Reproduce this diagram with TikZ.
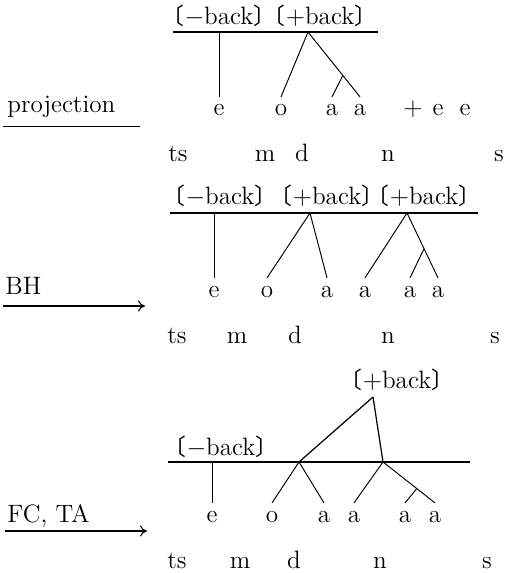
\documentclass[tikz,border=0pt]{standalone}
\usepackage{fontspec}
\usepackage{tikz}
\usetikzlibrary{arrows.meta, calc}
\newfontfamily\cjk{Noto Sans CJK JP}
\newcommand{\bk}[1]{{\cjk\fontsize{13}{13}\selectfont 〔}#1{\cjk\fontsize{13}{13}\selectfont 〕}}

\begin{document}
\begin{tikzpicture}[
  x=0.02cm, y=-0.02cm,
  font=\fontsize{14.3}{17}\selectfont,
  seg/.style={anchor=base, inner sep=0pt, outer ysep=4.5pt},
  cons/.style={anchor=base, inner sep=0pt},
  ftr/.style={anchor=base, inner sep=0pt},
  lab/.style={anchor=base west, inner sep=0pt},
  tier/.style={line width=0.7pt},
  assoc/.style={line width=0.55pt},
  rule/.style={line width=0.6pt, -{To[length=1.4mm, width=2.2mm]}}]
  \useasboundingbox (0,0) rectangle (508,573);

  % projection
  \node[lab] (lp) at (7,113) {projection};
  \coordinate (lp0) at (3,126); \coordinate (lp1) at (140,126);
  \draw[assoc] (lp0) -- (lp1);
  \node[ftr] (f11) at (219,25) {\bk{$-$back}};
  \node[ftr] (f12) at (320,25) {\bk{$+$back}};
  \coordinate (t1a) at (173,32); \coordinate (t1b) at (378,32);
  \draw[tier] (t1a) -- (t1b);
  \node[seg] (v11) at (219,116) {e};
  \node[seg] (v12) at (281,116) {o};
  \node[seg] (v13) at (332,116) {a};
  \node[seg] (v14) at (360,116) {a};
  \node[seg] (v15) at (413,116) {$+$};
  \node[seg] (v16) at (438,116) {e};
  \node[seg] (v17) at (465,116) {e};
  \coordinate (r11) at (219,32); \coordinate (r12) at (308,32);
  \coordinate (s1) at ($(r12)!0.67!(v14.north)$);
  \draw[assoc] (r11) -- (v11.north);
  \draw[assoc] (r12) -- (v12.north);
  \draw[assoc] (r12) -- (v14.north);
  \draw[assoc] (s1) -- (v13.north);
  \node[cons] (c11) at (178,162) {ts};
  \node[cons] (c12) at (265,162) {m};
  \node[cons] (c13) at (302,162) {d};
  \node[cons] (c14) at (388,162) {n};
  \node[cons] (c15) at (499,162) {s};

  % BH
  \node[lab] (lb) at (5,295) {BH};
  \coordinate (lb0) at (3,306); \coordinate (lb1) at (145,306);
  \draw[rule] (lb0) -- (lb1);
  \node[ftr] (f21) at (220,205) {\bk{$-$back}};
  \node[ftr] (f22) at (327,205) {\bk{$+$back}};
  \node[ftr] (f23) at (424,205) {\bk{$+$back}};
  \coordinate (t2a) at (170,213); \coordinate (t2b) at (478,213);
  \draw[tier] (t2a) -- (t2b);
  \node[seg] (v21) at (214,297) {e};
  \node[seg] (v22) at (267,297) {o};
  \node[seg] (v23) at (327,297) {a};
  \node[seg] (v24) at (365,297) {a};
  \node[seg] (v25) at (410,297) {a};
  \node[seg] (v26) at (438,297) {a};
  \coordinate (r21) at (214,213); \coordinate (r22) at (310,213);
  \coordinate (r23) at (407,213);
  \coordinate (s2) at ($(r23)!0.55!(v26.north)$);
  \draw[assoc] (r21) -- (v21.north);
  \draw[assoc] (r22) -- (v22.north);
  \draw[assoc] (r22) -- (v23.north);
  \draw[assoc] (r23) -- (v24.north);
  \draw[assoc] (r23) -- (v26.north);
  \draw[assoc] (s2) -- (v25.north);
  \node[cons] (c21) at (177,343) {ts};
  \node[cons] (c22) at (237,343) {m};
  \node[cons] (c23) at (295,343) {d};
  \node[cons] (c24) at (388,343) {n};
  \node[cons] (c25) at (495,343) {s};

  % FC, TA
  \node[lab] (lf) at (7,522) {FC, TA};
  \coordinate (lf0) at (5,531); \coordinate (lf1) at (147,531);
  \draw[rule] (lf0) -- (lf1);
  \node[ftr] (f31) at (397,388) {\bk{$+$back}};
  \node[ftr] (f32) at (221,455) {\bk{$-$back}};
  \coordinate (t3a) at (168,462); \coordinate (t3b) at (470,462);
  \draw[tier] (t3a) -- (t3b);
  \node[seg] (v31) at (212,522) {e};
  \node[seg] (v32) at (272,522) {o};
  \node[seg] (v33) at (324,522) {a};
  \node[seg] (v34) at (354,522) {a};
  \node[seg] (v35) at (405,522) {a};
  \node[seg] (v36) at (435,522) {a};
  \coordinate (r30) at (373,397);
  \coordinate (r31) at (212,462); \coordinate (r32) at (299,462);
  \coordinate (r33) at (383,462);
  \coordinate (s3) at ($(r33)!0.65!(v36.north)$);
  \draw[tier] (r30) -- (r32);
  \draw[tier] (r30) -- (r33);
  \draw[assoc] (r31) -- (v31.north);
  \draw[assoc] (r32) -- (v32.north);
  \draw[assoc] (r32) -- (v33.north);
  \draw[assoc] (r33) -- (v34.north);
  \draw[assoc] (r33) -- (v36.north);
  \draw[assoc] (s3) -- (v35.north);
  \node[cons] (c31) at (177,568) {ts};
  \node[cons] (c32) at (240,568) {m};
  \node[cons] (c33) at (294,568) {d};
  \node[cons] (c34) at (380,568) {n};
  \node[cons] (c35) at (487,568) {s};
\end{tikzpicture}
\end{document}
